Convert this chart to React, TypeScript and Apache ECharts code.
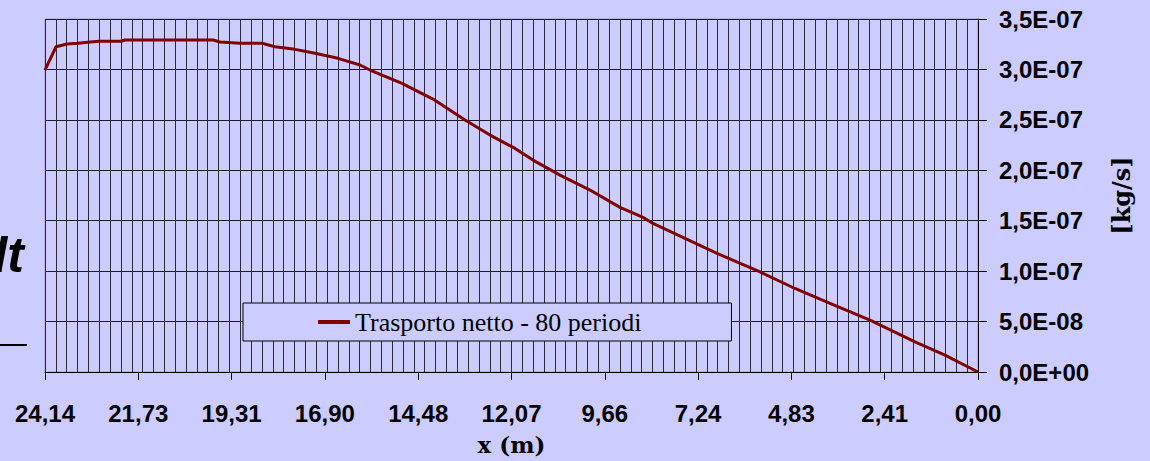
import React, { useEffect, useRef } from "react";
import * as echarts from "echarts";

// x position (m) of each sample, and net transport (kg/s)
const xValues = [
  24.14, 23.855, 23.57, 23.286, 23.027, 22.743, 22.173, 22.07, 19.793, 19.612,
  19.094, 18.525, 18.189, 17.671, 17.154, 16.559, 15.99, 15.731, 14.903, 14.101,
  13.273, 12.626, 11.979, 11.514, 10.815, 10.039, 9.263, 8.693, 8.409, 7.581,
  6.753, 5.64, 4.735, 3.829, 2.794, 1.63, 0.854, 0.0,
];
const transport = [
  2.994e-7, 3.225e-7, 3.252e-7, 3.259e-7, 3.269e-7, 3.279e-7, 3.279e-7, 3.292e-7, 3.292e-7, 3.272e-7,
  3.259e-7, 3.259e-7, 3.225e-7, 3.199e-7, 3.16e-7, 3.11e-7, 3.044e-7, 2.994e-7, 2.862e-7, 2.706e-7,
  2.498e-7, 2.349e-7, 2.217e-7, 2.101e-7, 1.952e-7, 1.804e-7, 1.632e-7, 1.539e-7, 1.473e-7, 1.324e-7,
  1.176e-7, 0.993e-7, 0.828e-7, 0.68e-7, 0.514e-7, 0.299e-7, 0.167e-7, 0.0,
];

const xTickLabels = ["0,00", "2,41", "4,83", "7,24", "9,66", "12,07", "14,48", "16,90", "19,31", "21,73", "24,14"];
const yTickLabels = ["0,0E+00", "5,0E-08", "1,0E-07", "1,5E-07", "2,0E-07", "2,5E-07", "3,0E-07", "3,5E-07"];

const seriesName = "Trasporto netto - 80 periodi";
const xTitle = "x (m)";
const yTitle = "[kg/s]";

const X_MAX = 24.14;
const X_STEP = 2.414;
const Y_STEP = 5e-8;
const GRID_COLUMNS = 86;

export default function App() {
  const ref = useRef<HTMLDivElement>(null);
  useEffect(() => {
    if (!ref.current) return;
    const chart = echarts.init(ref.current, null, { renderer: "svg" });
    const data = xValues.map((x, i) => [x, transport[i]]);
    chart.setOption({
      animation: false,
      backgroundColor: "#ccccff",
      grid: {
        left: 45,
        top: 19,
        right: 172,
        bottom: 89,
        show: true,
        borderColor: "#a890d8",
        borderWidth: 1,
        backgroundColor: "transparent",
      },
      legend: {
        data: [seriesName],
        left: 243,
        top: 303,
        padding: [6, 90, 6, 75],
        borderColor: "#000",
        borderWidth: 1,
        backgroundColor: "#ccccff",
        icon: "rect",
        itemWidth: 32,
        itemHeight: 4,
        textStyle: { fontFamily: "Liberation Serif", fontSize: 26, color: "#000" },
      },
      xAxis: [
        {
          type: "value",
          min: 0,
          max: X_MAX,
          interval: X_STEP,
          inverse: true,
          position: "bottom",
          name: xTitle,
          nameLocation: "middle",
          nameGap: 61,
          nameTextStyle: { fontFamily: "DejaVu Serif", fontWeight: "bold", fontSize: 23, color: "#000" },
          axisLine: { show: true, lineStyle: { color: "#000", width: 1 } },
          axisTick: { show: true, length: 8, lineStyle: { color: "#000" } },
          axisLabel: {
            margin: 29,
            fontFamily: "Liberation Sans",
            fontWeight: "bold",
            fontSize: 24,
            color: "#000",
            formatter: (v: number) => xTickLabels[Math.round(v / X_STEP)] ?? "",
          },
          splitLine: { show: false },
        },
        {
          type: "value",
          min: 0,
          max: X_MAX,
          interval: X_MAX / GRID_COLUMNS,
          inverse: true,
          position: "bottom",
          axisLine: { show: false },
          axisTick: { show: false },
          axisLabel: { show: false },
          splitLine: { show: true, lineStyle: { color: "#2a2a3a", width: 1 } },
        },
      ],
      yAxis: {
        type: "value",
        position: "right",
        min: 0,
        max: 3.5e-7,
        interval: Y_STEP,
        name: yTitle,
        nameLocation: "middle",
        nameRotate: 90,
        nameGap: 131,
        nameTextStyle: { fontFamily: "DejaVu Serif", fontWeight: "bold", fontSize: 24, color: "#000" },
        axisLine: { show: true, lineStyle: { color: "#000", width: 1 } },
        axisTick: { show: true, length: 9, lineStyle: { color: "#000" } },
        axisLabel: {
          margin: 21,
          fontFamily: "Liberation Sans",
          fontWeight: "bold",
          fontSize: 24,
          color: "#000",
          formatter: (v: number) => yTickLabels[Math.round(v / Y_STEP)] ?? "",
        },
        splitLine: { show: true, lineStyle: { color: "#1a1a2a", width: 1 } },
      },
      graphic: [
        {
          type: "text",
          x: 24,
          y: 255,
          style: {
            text: "dt",
            font: "italic bold 50px 'Liberation Sans'",
            fill: "#000",
            textAlign: "right",
            textVerticalAlign: "middle",
          },
        },
        {
          type: "line",
          shape: { x1: 0, y1: 345, x2: 27, y2: 345 },
          style: { stroke: "#000", lineWidth: 2 },
        },
      ],
      series: [
        {
          name: seriesName,
          type: "line",
          xAxisIndex: 0,
          data,
          showSymbol: false,
          symbol: "none",
          lineStyle: { color: "#800000", width: 3 },
          itemStyle: { color: "#800000" },
          z: 5,
        },
      ],
    });
    return () => chart.dispose();
  }, []);
  return <div ref={ref} style={{ position: "absolute", left: 0, top: 0, width: 1150, height: 461 }} />;
}
